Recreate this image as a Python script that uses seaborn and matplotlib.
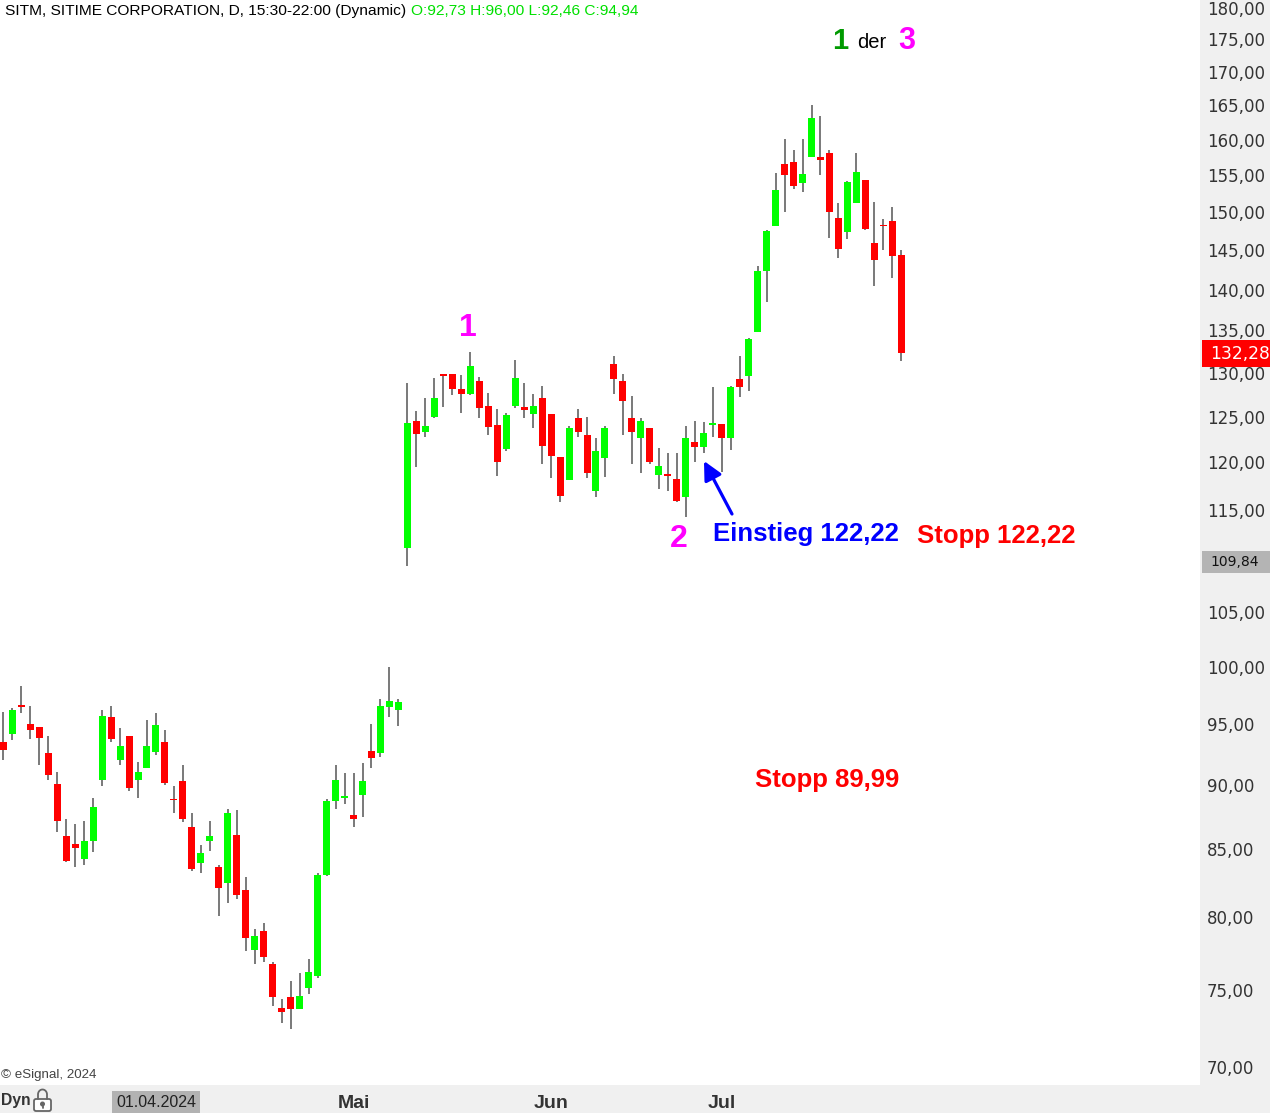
import numpy as np
import pandas as pd
import matplotlib
matplotlib.use("Agg")
import matplotlib.pyplot as plt
import matplotlib.transforms as mtransforms
import matplotlib.ticker as mticker
from matplotlib.patches import Rectangle, FancyBboxPatch, Circle
from matplotlib.lines import Line2D
from matplotlib import font_manager
import seaborn as sns

# ---------------- data ----------------
opens = [93.5, 94.2, 96.7, 95.0, 94.8, 92.6, 90.1, 86.0, 85.4, 84.3,
         85.6, 90.4, 95.6, 92.0, 94.0, 90.4, 91.4, 92.73, 93.5, 88.9,
         90.3, 86.7, 84.0, 85.6, 83.7, 82.5, 86.1, 82.0, 77.7, 79.0,
         76.7, 73.8, 74.5, 73.7, 75.1, 75.9, 83.1, 88.7, 89.0, 87.6,
         89.2, 92.8, 92.6, 96.5, 96.2, 111.2, 124.5, 123.3, 125.0, 129.9,
         129.9, 128.1, 127.6, 129.0, 126.2, 124.1, 121.5, 126.2, 126.1, 125.3,
         127.1, 125.3, 120.6, 118.1, 124.9, 123.0, 117.0, 120.5, 131.0, 129.0,
         124.9, 122.7, 123.8, 118.7, 118.8, 118.2, 116.4, 122.2, 121.7, 124.1,
         124.2, 122.6, 129.3, 129.6, 134.8, 142.4, 148.2, 156.6, 156.9, 154.0,
         157.6, 157.5, 158.1, 149.2, 147.4, 151.2, 154.4, 145.9, 148.3, 148.8,
         144.4]
highs = [96.1, 96.4, 98.3, 96.6, 94.8, 94.0, 91.1, 87.3, 86.9, 87.2,
         89.0, 96.2, 96.6, 94.7, 94.0, 91.9, 95.4, 96.00, 94.5, 89.9,
         91.6, 87.8, 85.3, 87.2, 83.8, 88.1, 88.0, 82.9, 79.2, 79.6,
         76.9, 74.4, 75.6, 76.1, 77.1, 83.2, 88.9, 91.6, 91.0, 91.0,
         91.8, 95.0, 97.2, 100.0, 97.2, 128.8, 125.6, 127.1, 129.4, 129.9,
         129.9, 129.7, 132.4, 129.5, 127.7, 125.9, 125.4, 131.5, 128.8, 127.5,
         128.5, 125.3, 120.6, 124.0, 125.9, 125.0, 122.6, 124.0, 131.9, 129.9,
         127.3, 124.8, 123.8, 121.6, 121.0, 121.0, 124.0, 124.5, 124.4, 128.3,
         124.2, 128.5, 131.9, 134.1, 143.0, 147.6, 155.3, 160.1, 158.5, 160.1,
         165.0, 163.4, 158.6, 151.2, 154.2, 158.1, 154.4, 151.4, 149.1, 150.7,
         145.0]
lows = [92.0, 93.7, 95.95, 93.8, 91.6, 90.4, 86.3, 84.05, 83.7, 83.8,
        84.8, 89.95, 93.5, 91.6, 89.5, 89.0, 91.4, 92.46, 90.0, 87.8,
        87.1, 83.4, 83.2, 84.9, 80.1, 81.0, 81.3, 77.6, 76.7, 76.9,
        73.9, 72.8, 72.4, 73.7, 74.7, 75.8, 83.0, 88.1, 88.5, 86.7,
        87.5, 91.4, 92.3, 95.6, 94.85, 109.4, 119.5, 122.8, 124.9, 126.1,
        127.4, 125.4, 127.4, 124.9, 123.0, 118.6, 121.2, 126.0, 124.8, 123.8,
        119.8, 118.4, 115.8, 118.1, 122.8, 118.3, 116.4, 118.5, 127.5, 123.0,
        119.8, 118.9, 119.8, 117.2, 117.0, 115.8, 114.3, 120.1, 121.0, 122.8,
        119.0, 121.3, 127.2, 127.9, 134.8, 138.5, 148.1, 150.0, 153.2, 152.7,
        157.6, 155.1, 146.6, 144.0, 146.4, 151.2, 147.6, 140.5, 145.0, 141.5,
        131.4]
closes = [92.9, 96.2, 96.5, 94.5, 93.9, 90.8, 87.2, 84.1, 85.1, 85.6,
          88.3, 95.7, 93.8, 93.2, 89.8, 91.1, 93.2, 94.94, 90.2, 88.8,
          87.3, 83.5, 84.7, 86.0, 82.1, 87.8, 81.6, 78.5, 78.7, 77.2,
          74.5, 73.5, 73.7, 74.6, 76.2, 83.1, 88.7, 90.4, 89.1, 87.3,
          90.3, 92.2, 96.6, 97.0, 96.9, 124.3, 123.1, 124.0, 127.1, 129.6,
          128.1, 127.6, 130.8, 126.0, 123.9, 120.0, 125.2, 129.4, 125.7, 126.2,
          121.8, 120.7, 116.5, 123.8, 123.3, 118.9, 121.2, 123.8, 129.3, 126.8,
          123.3, 124.5, 120.1, 119.6, 118.6, 115.9, 122.6, 121.7, 123.2, 124.3,
          122.6, 128.3, 128.4, 134.0, 142.3, 147.5, 153.0, 155.1, 153.5, 155.2,
          163.1, 157.2, 150.0, 145.2, 154.1, 155.5, 147.8, 143.8, 148.1, 144.2,
          132.28]

month_pos = [17, 39, 61, 80]
month_labels = ["01.04.2024", "Mai", "Jun", "Jul"]
price_ticks = [70, 75, 80, 85, 90, 95, 100, 105, 115, 120, 125, 130,
               135, 140, 145, 150, 155, 160, 165, 170, 175, 180]
level_price = 109.84
hover_idx = 17
title_main = "SITM, SITIME CORPORATION, D, 15:30-22:00 (Dynamic)"

# ---------------- style ----------------
sns.set_theme(style="white")
plt.rcParams['font.family'] = ['Liberation Sans', 'DejaVu Sans']


def has_font(name):
    try:
        font_manager.findfont(font_manager.FontProperties(family=name),
                              fallback_to_default=False)
        return True
    except Exception:
        return False


NARROW = 'Liberation Sans Narrow' if has_font('Liberation Sans Narrow') else 'Liberation Sans'


def fmt(v):
    return f"{v:.2f}".replace('.', ',')


W, H = 1270, 1113
fig = plt.figure(figsize=(W / 100, H / 100), dpi=100, facecolor='#f0f0f0')
ax = fig.add_axes([0, 28 / H, 1200 / W, 1085 / H])
ax.set_facecolor('white')
for s in ax.spines.values():
    s.set_visible(False)
ax.grid(False)

PX = mtransforms.Affine2D().scale(1, -1).translate(0, H)  # pixel coords, y down

df = pd.DataFrame({'open': opens, 'high': highs, 'low': lows, 'close': closes})
df['idx'] = np.arange(len(df))
df['up'] = df['close'] >= df['open']
df['body_lo'] = df[['open', 'close']].min(axis=1)
df['body_h'] = (df['close'] - df['open']).abs().clip(lower=0.1)
colors = np.where(df['up'], '#00ff00', '#ff0000')

ax.set_yscale('log')
ax.vlines(df['idx'], df['low'], df['high'], colors='#6e6e6e', linewidth=1.3, zorder=2)
ax.bar(df['idx'], df['body_h'], bottom=df['body_lo'], width=0.78,
       color=colors, linewidth=0, zorder=3)

ax.set_xlim(-0.3675, 133.26)
ax.set_ylim(68.886, 181.24)

# y axis on the right
ax.yaxis.tick_right()
ax.set_yticks(price_ticks)
ax.yaxis.set_minor_locator(mticker.NullLocator())
ax.set_yticklabels([fmt(v) for v in price_ticks])
ax.tick_params(axis='y', which='both', length=0, pad=5, labelsize=12,
               labelcolor='#333333')
for lab in ax.get_yticklabels():
    lab.set_fontfamily('DejaVu Sans')

# x axis month labels
ax.set_xticks(month_pos)
ax.set_xticklabels(month_labels)
ax.xaxis.set_minor_locator(mticker.NullLocator())
ax.tick_params(axis='x', length=0, pad=7.5)
xl = ax.get_xticklabels()
for lab in xl:
    lab.set_fontsize(14)
    lab.set_fontweight('bold')
    lab.set_color('#333333')
xl[0].set_fontweight('normal')
xl[0].set_fontfamily(NARROW)
xl[0].set_fontsize(14 if NARROW != 'Liberation Sans' else 11.5)
xl[0].set_color('#222222')
xl[0].set_bbox(dict(facecolor='#b2b2b2', edgecolor='none', boxstyle='square,pad=0.25'))


def ypx(v):
    return H - ax.transData.transform((0, v))[1]


# price boxes on the right axis
yl = ypx(closes[-1])
fig.add_artist(Rectangle((1202, yl - 13.5), 70, 27, transform=PX,
                         facecolor='#ff0000', edgecolor='none', zorder=5))
fig.text(1210, yl + 1, fmt(closes[-1]), transform=PX, color='white',
         fontsize=12.3, family='DejaVu Sans', va='center', ha='left', zorder=6)
yg = ypx(level_price)
fig.add_artist(Rectangle((1202, yg - 11), 70, 22, transform=PX,
                         facecolor='#b4b4b4', edgecolor='none', zorder=5))
fig.text(1210, yg + 0.5, fmt(level_price), transform=PX, color='#111111',
         fontsize=10, family='DejaVu Sans', va='center', ha='left', zorder=6)

# header
t1 = fig.text(5, 11, title_main, transform=PX, color='black', fontsize=12,
              family=NARROW, va='center', ha='left')
fig.canvas.draw()
bb = t1.get_window_extent()
fs = 12 * 400 / bb.width
t1.set_fontsize(fs)
fig.canvas.draw()
bb = t1.get_window_extent()
green_txt = (f"O:{fmt(opens[hover_idx])} H:{fmt(highs[hover_idx])} "
             f"L:{fmt(lows[hover_idx])} C:{fmt(closes[hover_idx])}")
fig.text(bb.x1 + 5, 11, green_txt, transform=PX, color='#00e000', fontsize=fs,
         family=NARROW, va='center', ha='left')

# annotations
fig.text(468, 328, "1", transform=PX, color='#ff00ff', fontsize=23,
         fontweight='bold', ha='center', va='center')
fig.text(679, 539, "2", transform=PX, color='#ff00ff', fontsize=23,
         fontweight='bold', ha='center', va='center')
fig.text(713, 534, "Einstieg 122,22", transform=PX, color='#0000ff', fontsize=18.5,
         fontweight='bold', ha='left', va='center')
fig.text(917, 536, "Stopp 122,22", transform=PX, color='#ff0000', fontsize=18.5,
         fontweight='bold', ha='left', va='center')
fig.text(755, 780, "Stopp 89,99", transform=PX, color='#ff0000', fontsize=18.5,
         fontweight='bold', ha='left', va='center')
fig.text(840, 41, "1", transform=PX, color='#009a00', fontsize=21,
         fontweight='bold', ha='center', va='center')
fig.text(857, 42, "der", transform=PX, color='black', fontsize=14.5,
         ha='left', va='center')
fig.text(907, 41, "3", transform=PX, color='#ff00ff', fontsize=22,
         fontweight='bold', ha='center', va='center')

ax.annotate('', xy=(704, 461), xycoords=PX, xytext=(732, 514), textcoords=PX,
            arrowprops=dict(arrowstyle='-|>,head_length=0.8,head_width=0.4',
                            color='#0000ff', lw=2.3, mutation_scale=14,
                            shrinkA=0, shrinkB=0))

fig.text(1, 1075, "© eSignal, 2024", transform=PX, color='#444444',
         fontsize=9.6, ha='left', va='center')

# bottom strip: "Dyn" + lock icon
fig.text(1, 1101, "Dyn", transform=PX, color='#333333', fontsize=11.3,
         fontweight='bold', ha='left', va='center')
theta = np.linspace(np.pi, 2 * np.pi, 30)
sx = np.concatenate([[38], 42.5 + 4.5 * np.cos(theta), [47]])
sy = np.concatenate([[1099], 1094.5 + 5 * np.sin(theta), [1099]])
fig.add_artist(Line2D(sx, sy, transform=PX, color='#666666', lw=1.3))
fig.add_artist(FancyBboxPatch((34, 1099), 17, 12,
                              boxstyle='round,pad=0,rounding_size=2',
                              transform=PX, facecolor='white',
                              edgecolor='#666666', lw=1.3))
fig.add_artist(Circle((42.5, 1104), 1.8, transform=PX, color='#666666'))
fig.add_artist(Line2D([42.5, 42.5], [1104, 1108], transform=PX, color='#666666', lw=1.3))

fig.savefig("out.png", dpi=100, facecolor=fig.get_facecolor())
